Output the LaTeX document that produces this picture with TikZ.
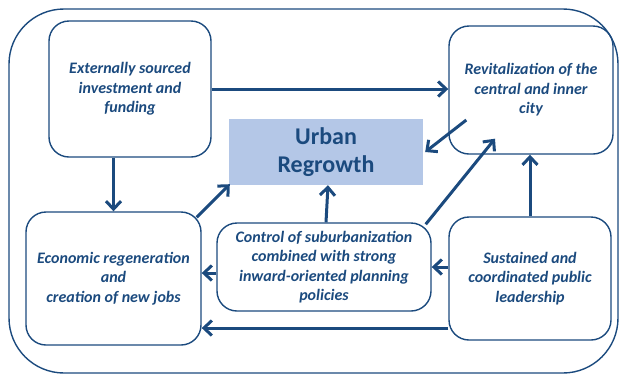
\documentclass[tikz,border=0pt]{standalone}
\usepackage{fontspec}
\setmainfont{Carlito}
\usetikzlibrary{positioning, arrows.meta, calc}
\definecolor{navy}{HTML}{1B4A7E}
\definecolor{paleblue}{HTML}{B4C7E7}

\begin{document}
\begin{tikzpicture}[x=1pt, y=1pt, >={Straight Barb[length=8pt, width=15pt]},
	font=\fontsize{16}{19.5}\selectfont\bfseries\itshape, text=navy,
	box/.style={draw=navy, line width=1.4pt, rounded corners=20pt, align=center, inner sep=0pt},
	link/.style={->, draw=navy, line width=3pt}]
	\useasboundingbox (0,0) rectangle (619,-376);
	\draw[navy, line width=1.4pt, rounded corners=55pt] (9,-9) rectangle (618,-373);
	\node[box, minimum width=162, minimum height=136] (ext) at (130,-89) {Externally sourced\\ investment and\\ funding};
	\node[box, minimum width=164, minimum height=128] (rev) at (531,-90) {Revitalization of the\\ central and inner\\ city};
	\node[fill=paleblue, minimum width=194, minimum height=66, align=center, font=\fontsize{24}{28}\selectfont\bfseries] (urb) at (326,-152) {Urban\\ Regrowth};
	\node[box, minimum width=175, minimum height=133] (eco) at (113.5,-278.5) {Economic regeneration\\ and\\ creation of new jobs};
	\node[box, minimum width=214, minimum height=88] (ctrl) at (324,-267) {Control of suburbanization\\ combined with strong\\ inward-oriented planning\\ policies};
	\node[box, minimum width=162, minimum height=123] (sus) at (530,-278.5) {Sustained and\\ coordinated public\\ leadership};
	\draw[link] (ext.east) -- (ext.east -| rev.west);
	\draw[link] (ext.south -| eco.north) -- (eco.north);
	\draw[link] ([shift={(-5,-6)}]eco.north east) -- ([shift={(1,1)}]urb.south west);
	\draw[link] ([shift={(18,-30)}]rev.west) -- ([xshift=2]urb.east);
	\draw[link] ([xshift=2]ctrl.north) -- ([xshift=2]urb.south);
	\draw[link] ([shift={(-6,-2)}]ctrl.north east) -- ([shift={(-36,16)}]rev.south);
	\draw[link] (sus.north) -- (sus.north |- rev.south);
	\draw[link] (sus.west |- ctrl.east) -- (ctrl.east);
	\draw[link] ([yshift=-6]ctrl.west) -- ([yshift=-6]ctrl.west -| eco.east);
	\draw[link] ([yshift=-49.5]sus.west) -- ([yshift=-49.5]sus.west -| eco.east);
\end{tikzpicture}
\end{document}
